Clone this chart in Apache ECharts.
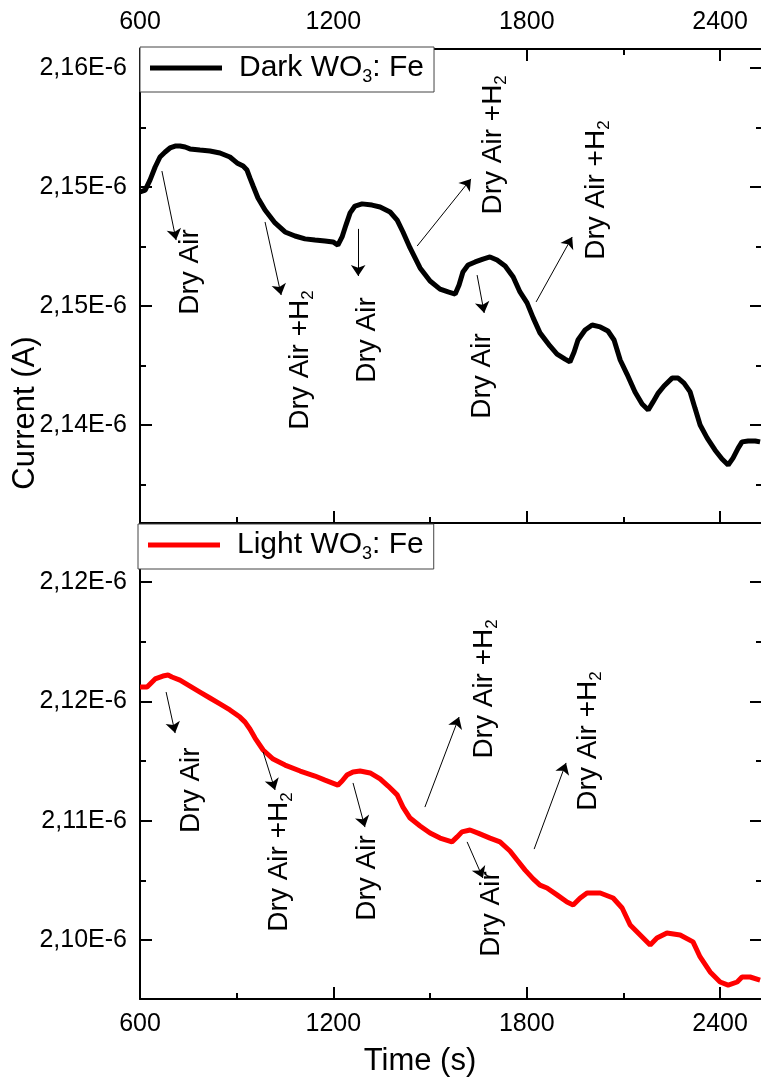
<!DOCTYPE html>
<html>
<head>
<meta charset="utf-8">
<script src="https://cdn.jsdelivr.net/npm/echarts@6/dist/echarts.min.js"></script>
<style>
  html, body { margin: 0; padding: 0; background: #fff; }
  #chart { width: 761px; height: 1077px; }
</style>
</head>
<body>
<div id="chart"></div>
<script>
// time axis (s)
const timeTicks = [600, 1200, 1800, 2400]
const timeMinor = [900, 1500, 2100]

// dark WO3:Fe, current in units of 1E-6 A
const darkTime = [600, 616, 631, 647, 662, 678, 693, 709, 724, 740, 755, 786, 817, 848, 879, 901, 920, 932, 941, 951,
  966, 988, 1019, 1050, 1081, 1112, 1143, 1174, 1199, 1214, 1227, 1239, 1252, 1267, 1289, 1320, 1345, 1376, 1398, 1416,
  1438, 1469, 1500, 1531, 1556, 1578, 1590, 1602, 1618, 1640, 1664, 1686, 1708, 1733, 1758, 1779, 1801, 1820, 1841, 1872,
  1894, 1919, 1934, 1947, 1959, 1981, 2003, 2028, 2052, 2071, 2090, 2111, 2136, 2158, 2177, 2192, 2208, 2226, 2251, 2270,
  2288, 2307, 2322, 2338, 2360, 2384, 2406, 2425, 2440, 2456, 2468, 2487, 2509, 2524]
const darkCurrent = [2.15229, 2.15237, 2.15279, 2.15334, 2.15376, 2.15397, 2.15414, 2.15422, 2.15422, 2.15418, 2.15410,
  2.15405, 2.15401, 2.15393, 2.15376, 2.15351, 2.15338, 2.15321, 2.15288, 2.15254, 2.15204, 2.15153, 2.15099, 2.15061,
  2.15044, 2.15032, 2.15027, 2.15023, 2.15019, 2.15006, 2.15040, 2.15090, 2.15141, 2.15170, 2.15179, 2.15174, 2.15166,
  2.15145, 2.15111, 2.15061, 2.14994, 2.14910, 2.14855, 2.14821, 2.14809, 2.14800, 2.14838, 2.14893, 2.14922, 2.14935,
  2.14947, 2.14956, 2.14943, 2.14918, 2.14872, 2.14809, 2.14763, 2.14700, 2.14637, 2.14582, 2.14548, 2.14527, 2.14515,
  2.14557, 2.14607, 2.14649, 2.14670, 2.14662, 2.14645, 2.14607, 2.14523, 2.14464, 2.14389, 2.14338, 2.14313, 2.14347,
  2.14384, 2.14414, 2.14447, 2.14447, 2.14426, 2.14389, 2.14321, 2.14250, 2.14195, 2.14145, 2.14107, 2.14082, 2.14111,
  2.14153, 2.14179, 2.14183, 2.14183, 2.14179]

// light WO3:Fe, current in units of 1E-6 A
const lightTime = [600, 622, 647, 671, 687, 699, 724, 755, 786, 817, 848, 879, 910, 926, 941, 957, 982, 1013, 1050, 1097,
  1143, 1174, 1214, 1227, 1242, 1261, 1283, 1314, 1345, 1370, 1398, 1416, 1438, 1469, 1500, 1531, 1568, 1584, 1599, 1624,
  1649, 1686, 1717, 1748, 1770, 1795, 1820, 1841, 1863, 1894, 1925, 1944, 1966, 1987, 2028, 2068, 2096, 2121, 2152, 2183,
  2204, 2235, 2276, 2316, 2338, 2369, 2400, 2425, 2453, 2468, 2493, 2524]
const lightCurrent = [2.11560, 2.11560, 2.11594, 2.11606, 2.11610, 2.11602, 2.11589, 2.11564, 2.11539, 2.11514, 2.11489,
  2.11464, 2.11434, 2.11413, 2.11384, 2.11346, 2.11296, 2.11258, 2.11233, 2.11208, 2.11187, 2.11170, 2.11149, 2.11166,
  2.11191, 2.11204, 2.11208, 2.11200, 2.11175, 2.11145, 2.11108, 2.11057, 2.11011, 2.10978, 2.10948, 2.10927, 2.10911,
  2.10932, 2.10953, 2.10961, 2.10948, 2.10927, 2.10911, 2.10873, 2.10835, 2.10793, 2.10756, 2.10730, 2.10718, 2.10689,
  2.10659, 2.10647, 2.10676, 2.10697, 2.10697, 2.10676, 2.10634, 2.10563, 2.10521, 2.10479, 2.10508, 2.10529, 2.10521,
  2.10492, 2.10429, 2.10366, 2.10324, 2.10311, 2.10324, 2.10345, 2.10345, 2.10332]

// y ticks (1E-6 A) and the labels printed on them
const darkTicks = [2.1575, 2.1525, 2.1475, 2.1425]
const darkTickLabels = ['2,16E-6', '2,15E-6', '2,15E-6', '2,14E-6']
const darkMinor = [2.155, 2.150, 2.145, 2.140]
const lightTicks = [2.120, 2.115, 2.110, 2.105]
const lightTickLabels = ['2,12E-6', '2,12E-6', '2,11E-6', '2,10E-6']
const lightMinor = [2.1175, 2.1125, 2.1075]

// gas switching annotations: [time, current] -> [time, current]
const darkArrows = [
  [[668, 2.15317], [712, 2.15027]],
  [[988, 2.15103], [1038, 2.14796]],
  [[1277, 2.15074], [1277, 2.14876]],
  [[1460, 2.15002], [1627, 2.15284]],
  [[1829, 2.14767], [1941, 2.15040]],
  [[1646, 2.14880], [1668, 2.14721]]
]
const darkNotes = [
  ['Dry Air', 755, 2.14893],
  ['Dry Air +H2', 1097, 2.14523],
  ['Dry Air', 1304, 2.14607],
  ['Dry Air +H2', 1696, 2.15427],
  ['Dry Air +H2', 2015, 2.15237],
  ['Dry Air', 1661, 2.14456]
]
const lightArrows = [
  [[681, 2.11539], [709, 2.11367]],
  [[982, 2.11288], [1019, 2.11129]],
  [[1261, 2.11158], [1298, 2.10973]],
  [[1484, 2.11057], [1590, 2.11434]],
  [[1823, 2.10881], [1922, 2.11242]],
  [[1615, 2.10911], [1664, 2.10760]]
]
const lightNotes = [
  ['Dry Air', 758, 2.11128],
  ['Dry Air +H2', 1031, 2.10827],
  ['Dry Air', 1304, 2.10760],
  ['Dry Air +H2', 1668, 2.11552],
  ['Dry Air +H2', 1990, 2.11334],
  ['Dry Air', 1689, 2.10609]
]

const font = 'Liberation Sans, Arial, sans-serif'
const timeRange = [600, 2530]
const darkRange = [2.138382, 2.158298]
const lightRange = [2.102528, 2.122472]

const chart = echarts.init(document.getElementById('chart'))

const tick = (values, length) => ({
  show: true, inside: true, length, customValues: values,
  lineStyle: { color: '#000', width: 2 }
})

// a main axis (line, major ticks, labels) plus an overlay carrying the short minor ticks
function axisPair(grid, position, range, major, minor, labels, margin) {
  const base = { type: 'value', gridIndex: grid, position, min: range[0], max: range[1], splitLine: { show: false } }
  const main = {
    ...base,
    axisLine: { show: true, onZero: false, lineStyle: { color: '#000', width: 2 } },
    axisTick: tick(major, 12),
    axisLabel: labels ? {
      show: true, customValues: major, margin, color: '#000', fontSize: 25, fontFamily: font,
      formatter: v => {
        const i = major.findIndex(m => Math.abs(m - v) < 1e-9)
        return labels === true ? String(v) : (labels[i] || '')
      }
    } : { show: false }
  }
  const sub = {
    ...base,
    axisLine: { show: false, onZero: false },
    axisTick: tick(minor, 6),
    axisLabel: { show: false }
  }
  return [main, sub]
}

const richText = size => ({
  f: { fontSize: size, fontFamily: font, color: '#000', verticalAlign: 'middle', lineHeight: size + 6, padding: [0, 0, 0, 12] },
  n: { fontSize: size, fontFamily: font, color: '#000', verticalAlign: 'middle', lineHeight: size + 6 },
  s: { fontSize: Math.round(size * 0.6), fontFamily: font, color: '#000', verticalAlign: 'bottom' }
})

function legendBox(name, left, top) {
  return {
    data: [name], left, top, selectedMode: false,
    icon: 'rect', itemWidth: 72, itemHeight: 5,
    padding: [6, 10, 6, 10],
    borderColor: '#444', borderWidth: 1, borderRadius: 0, backgroundColor: '#fff',
    formatter: n => '{f|' + n.replace('WO3', 'WO}{s|3}{n|') + '}',
    textStyle: { rich: richText(30) }
  }
}

function notes(list) {
  return {
    silent: true,
    symbol: 'circle', symbolSize: 1,
    itemStyle: { color: 'rgba(0,0,0,0)' },
    label: {
      show: true, position: 'inside', rotate: 90,
      formatter: p => p.name === 'Dry Air' ? '{n|Dry Air}' : '{n|Dry Air +H}{s|2}',
      rich: richText(28)
    },
    data: list.map(d => ({ name: d[0], coord: [d[1], d[2]] }))
  }
}

function arrows(list) {
  return {
    silent: true,
    symbol: ['none', 'arrow'], symbolSize: 11,
    label: { show: false },
    lineStyle: { color: '#000', width: 1, type: 'solid' },
    data: list.map(a => [{ coord: a[0] }, { coord: a[1] }])
  }
}

const option = {
  animation: false,
  backgroundColor: '#fff',
  grid: [
    { left: 140, right: -1, top: 49, height: 474, outerBoundsMode: 'none', containLabel: false },
    { left: 140, right: -1, top: 523, height: 476, outerBoundsMode: 'none', containLabel: false }
  ],
  xAxis: [
    ...axisPair(0, 'top', timeRange, timeTicks, timeMinor, true, 14),
    ...axisPair(0, 'bottom', timeRange, timeTicks, timeMinor, false),
    ...axisPair(1, 'bottom', timeRange, timeTicks, timeMinor, true, 13)
  ],
  yAxis: [
    ...axisPair(0, 'left', darkRange, darkTicks, darkMinor, darkTickLabels, 13),
    ...axisPair(0, 'right', darkRange, darkTicks, darkMinor, false),
    ...axisPair(1, 'left', lightRange, lightTicks, lightMinor, lightTickLabels, 13),
    ...axisPair(1, 'right', lightRange, lightTicks, lightMinor, false)
  ],
  legend: [
    legendBox('Dark WO3: Fe', 140, 47),
    legendBox('Light WO3: Fe', 138, 524)
  ],
  series: [
    {
      name: 'Dark WO3: Fe', type: 'line', xAxisIndex: 0, yAxisIndex: 0,
      showSymbol: false, symbol: 'none',
      lineStyle: { color: '#000', width: 5 }, itemStyle: { color: '#000' },
      data: darkTime.map((t, i) => [t, darkCurrent[i]]),
      markLine: arrows(darkArrows),
      markPoint: notes(darkNotes)
    },
    {
      name: 'Light WO3: Fe', type: 'line', xAxisIndex: 4, yAxisIndex: 4,
      showSymbol: false, symbol: 'none',
      lineStyle: { color: '#ff0000', width: 5 }, itemStyle: { color: '#ff0000' },
      data: lightTime.map((t, i) => [t, lightCurrent[i]]),
      markLine: arrows(lightArrows),
      markPoint: notes(lightNotes)
    }
  ],
  graphic: [
    {
      type: 'text', x: 25, y: 413, rotation: Math.PI / 2,
      style: { text: 'Current (A)', fontSize: 31, fontFamily: font, fill: '#000', align: 'center', verticalAlign: 'middle' }
    },
    {
      type: 'text', x: 420, y: 1061,
      style: { text: 'Time (s)', fontSize: 31, fontFamily: font, fill: '#000', align: 'center', verticalAlign: 'middle' }
    }
  ]
}

chart.setOption(option)
</script>
</body>
</html>
